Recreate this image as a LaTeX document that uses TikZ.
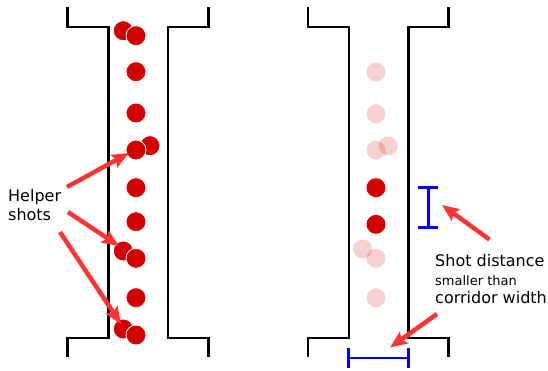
\documentclass[tikz,border=0pt]{standalone}
\usepackage{fontspec}
\setmainfont{DejaVu Sans}
\usetikzlibrary{arrows.meta}
\definecolor{shotred}{RGB}{212,0,0}
\definecolor{arrowred}{RGB}{255,51,51}
\definecolor{measblue}{RGB}{0,0,255}
\tikzset{
  wall/.style={draw=black, line width=2.4pt, line join=miter},
  shot/.style={circle, fill=shotred, draw=white, line width=0.8pt, minimum size=20pt, inner sep=0pt, outer sep=0pt},
  ghost/.style={circle, fill=shotred, fill opacity=0.18, draw=none, minimum size=19pt, inner sep=0pt, outer sep=0pt},
  pointer/.style={draw=arrowred, line width=4.5pt, -{Stealth[length=17pt,width=14pt,inset=3pt]}},
  meas/.style={draw=measblue, line width=2.4pt},
  lbl/.style={anchor=base west, inner sep=0pt, font=\fontsize{16}{19}\selectfont},
  smalllbl/.style={anchor=base west, inner sep=0pt, font=\fontsize{13}{15}\selectfont},
}
\begin{document}
\begin{tikzpicture}[x=1pt,y=-1pt]
\useasboundingbox (0,0) rectangle (548,370);
% left corridor walls
\draw[wall] (67.5,7) -- (67.5,27) -- (108.3,27) -- (108.3,338) -- (67.5,338) -- (67.5,357);
\draw[wall] (208.3,7) -- (208.3,27) -- (167.7,27) -- (167.7,338) -- (208.3,338) -- (208.3,357);
% right corridor walls
\draw[wall] (308,7) -- (308,27) -- (348.7,27) -- (348.7,338) -- (308,338) -- (308,357);
\draw[wall] (448.3,7) -- (448.3,27) -- (408.3,27) -- (408.3,338) -- (448.3,338) -- (448.3,357);
% left shots
\node[shot] (l1b) at (123.3,30.7) {};
\node[shot] (l1) at (136,35.7) {};
\node[shot] (l2) at (136,71.7) {};
\node[shot] (l3) at (136,113) {};
\node[shot] (l4b) at (150,145.7) {};
\node[shot] (l4) at (136,150) {};
\node[shot] (l5) at (136,187.7) {};
\node[shot] (l6) at (136,221.7) {};
\node[shot] (l7b) at (123.3,251) {};
\node[shot] (l7) at (136,258.3) {};
\node[shot] (l8) at (136,297.7) {};
\node[shot] (l9b) at (123.3,329) {};
\node[shot] (l9) at (136,335) {};
% right shots
\node[ghost] (r1) at (376,72) {};
\node[ghost] (r2) at (376,113.7) {};
\node[ghost] (r3) at (376,150) {};
\node[ghost] (r3b) at (388.3,146) {};
\node[shot, draw=none, minimum size=19pt] (r4) at (376,187.7) {};
\node[shot, draw=none, minimum size=19pt] (r5) at (376,224.3) {};
\node[ghost] (r6b) at (362.7,249) {};
\node[ghost] (r6) at (376,258.3) {};
\node[ghost] (r7) at (376,297.7) {};
% labels
\node[lbl] (helper) at (8,201.7) {Helper};
\node[lbl] (shots) at (8,220) {shots};
\node[lbl] (shotdist) at (435,266.7) {Shot distance};
\node[smalllbl] (smaller) at (435,285) {smaller than};
\node[lbl] (corr) at (435,303.3) {corridor width};
% measurement bars
\coordinate (m1t) at (428.3,187.5);
\coordinate (m1b) at (428.3,227.5);
\draw[meas] (m1t) -- (m1b);
\draw[meas] ([xshift=-10pt]m1t) -- ([xshift=10pt]m1t);
\draw[meas] ([xshift=-10pt]m1b) -- ([xshift=10pt]m1b);
\coordinate (m2l) at (348.5,358);
\coordinate (m2r) at (408.3,358);
\draw[meas] (m2l) -- (m2r);
\draw[meas] ([yshift=-10pt]m2l) -- ([yshift=10pt]m2l);
\draw[meas] ([yshift=-10pt]m2r) -- ([yshift=10pt]m2r);
% pointer arrows
\coordinate (a1s) at (67,187);
\coordinate (a1e) at (129,153);
\coordinate (a2s) at (68,212);
\coordinate (a2e) at (119,246);
\coordinate (a3s) at (60,232);
\coordinate (a3e) at (121,324);
\coordinate (a4s) at (489.5,239.5);
\coordinate (a4e) at (442,205);
\coordinate (a5s) at (437,314);
\coordinate (a5e) at (390,347.5);
\draw[pointer] (a1s) -- (a1e);
\draw[pointer] (a2s) -- (a2e);
\draw[pointer] (a3s) -- (a3e);
\draw[pointer] (a4s) -- (a4e);
\draw[pointer] (a5s) -- (a5e);
\end{tikzpicture}
\end{document}
